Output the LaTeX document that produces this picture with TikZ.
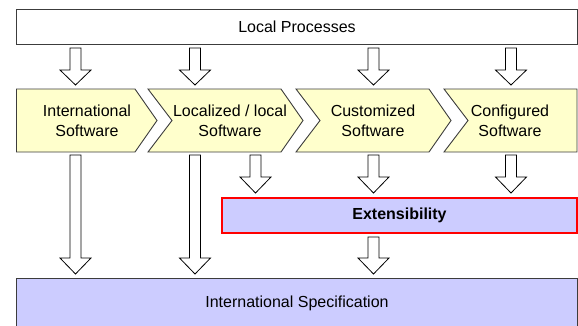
\documentclass[tikz,border=0pt]{standalone}
\usepackage{fontspec}
\setmainfont{Liberation Sans}
\definecolor{chevfill}{RGB}{255,255,204}
\definecolor{specfill}{RGB}{204,204,255}
\definecolor{linegray}{RGB}{60,60,60}
\definecolor{extred}{RGB}{255,0,0}
\tikzset{
  boxline/.style={draw=linegray, line width=0.9pt},
  chev/.style={boxline, fill=chevfill, line join=miter},
  barrowstyle/.style={draw=black, line width=0.8pt, fill=white, line join=miter},
  lbl/.style={font=\fontsize{16}{20}\selectfont, align=center, inner sep=0pt, text=black},
}
\newcommand{\barrow}[4]{%
  \draw[barrowstyle] ({#1-5.5},#2) -- ({#1+5.5},#2) -- ({#1+5.5},#3) -- ({#1+15.5},#3)
    -- (#1,#4) -- ({#1-15.5},#3) -- ({#1-5.5},#3) -- cycle;}
\begin{document}
\begin{tikzpicture}[x=1pt,y=-1pt]
\useasboundingbox (0,0) rectangle (578,325);
\clip (0,0) rectangle (578,325);
% top box
\draw[boxline, fill=white] (16.5,9) rectangle (577,44);
\node[lbl] (local) at (297,26.5) {Local Processes};
% chevrons
\draw[chev] (16.5,89) -- (135,89) -- (157,120.5) -- (135,152) -- (16.5,152) -- cycle;
\draw[chev] (148,89) -- (281,89) -- (303,120.5) -- (281,152) -- (148,152) -- (172,120.5) -- cycle;
\draw[chev] (296,89) -- (429,89) -- (451,120.5) -- (429,152) -- (296,152) -- (320,120.5) -- cycle;
\draw[chev] (444,89) -- (577,89) -- (577,152) -- (444,152) -- (468,120.5) -- cycle;
\node[lbl] (intl) at (87,120.5) {International\\Software};
\node[lbl] (locsw) at (230,120.5) {Localized / local\\Software};
\node[lbl] (cust) at (373,120.5) {Customized\\Software};
\node[lbl] (conf) at (510,120.5) {Configured\\Software};
% extensibility
\draw[draw=extred, line width=2.2pt, fill=specfill] (222,198) rectangle (577,233);
\node[lbl, font=\fontsize{16}{20}\selectfont\bfseries] (ext) at (399.5,215.5) {Extensibility};
% bottom box
\draw[boxline, fill=specfill] (16.5,278) rectangle (577,335);
\node[lbl] (spec) at (297,303) {International Specification};
% arrows from Local Processes
\barrow{75.5}{48}{70}{85}
\barrow{195}{48}{70}{85}
\barrow{373.5}{48}{70}{85}
\barrow{511}{48}{70}{85}
% long arrows
\barrow{75.5}{155}{258}{274}
\barrow{195}{155}{258}{274}
% short arrows
\barrow{255.5}{155}{177}{193}
\barrow{373.5}{155}{177}{193}
\barrow{511}{155}{177}{193}
% extensibility -> spec
\barrow{373.5}{237}{258}{274}
\end{tikzpicture}
\end{document}
